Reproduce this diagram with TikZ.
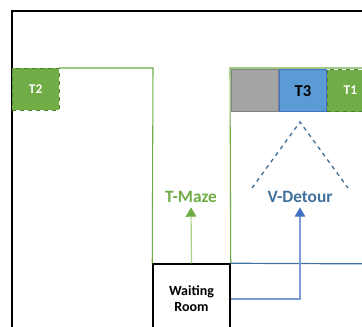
\documentclass[tikz,border=0pt]{standalone}
\usepackage{fontspec}
\setmainfont{Carlito}
\usetikzlibrary{arrows.meta,positioning}
\definecolor{mzgreen}{HTML}{70AD47}
\definecolor{mzdkgreen}{HTML}{507E32}
\definecolor{mzltgreen}{HTML}{A9D18E}
\definecolor{mzblue}{HTML}{5B9BD5}
\definecolor{mzdkblue}{HTML}{41719C}
\definecolor{mzarrow}{HTML}{4472C4}
\definecolor{mzgray}{HTML}{A5A5A5}

\begin{document}
\begin{tikzpicture}[x=0.75pt, y=-0.75pt,
  tbox/.style={minimum width=35pt, minimum height=31.5pt, inner sep=0pt, font=\bfseries\fontsize{10}{12}\selectfont},
  walls/.style={mzgreen, line width=0.8pt}]
\useasboundingbox (0,0) rectangle (362,327);
\clip (0,0) rectangle (362,327);
\fill[white] (0,0) rectangle (362,327);
\draw[black, line width=1.5pt] (12,360) |- (400,11);

\node[tbox, anchor=north west, fill=mzgreen, draw=mzdkgreen, dashed, text=white] (t2) at (12,68) {T2};
\node[tbox, anchor=north west, fill=mzgray, draw=gray, line width=1pt] (gray) at (231,69) {};
\node[tbox, right=0pt of gray, fill=mzblue, draw=mzarrow, line width=0.8pt, font=\bfseries\fontsize{12.5}{14}\selectfont] (t3) {T3};
\draw[white, dashed, line width=0.8pt] (t3.south west) -- (t3.south east);
\node[tbox, right=0pt of t3, fill=mzgreen, draw=mzdkgreen, dashed, text=white] (t1) {T1};

\node[draw=black, line width=1.1pt, minimum width=57.75pt, minimum height=52.5pt, inner sep=0pt, align=center, font=\bfseries\fontsize{10.5}{12}\selectfont] (wait) at (191.5,299) {Waiting\\Room};

\node[text=mzgreen, font=\bfseries\fontsize{13}{15}\selectfont] (tmaze) at (191,197) {T-Maze};
\node[text=mzdkblue, font=\bfseries\fontsize{13}{15}\selectfont] (vdet) at (300,197) {V-Detour};

\draw[walls] (t2.north east) -- (153,68) -- (wait.north west);
\draw[walls] (wait.north east) -- (230,68) -- (400,68);
\draw[mzdkblue, line width=0.9pt] (wait.north east) -- (400,264);

\draw[mzdkblue, dashed, line width=1pt] (252,188) -- (300,122) -- (348,188);

\draw[mzltgreen, line width=0.9pt, -{Triangle[length=7pt, width=8pt, color=mzgreen]}] (wait.north) -- (tmaze.south);
\draw[mzarrow!70, line width=0.8pt, -{Triangle[length=7pt, width=8pt, color=mzarrow]}] (wait.east) -| (vdet.south);
\end{tikzpicture}
\end{document}
